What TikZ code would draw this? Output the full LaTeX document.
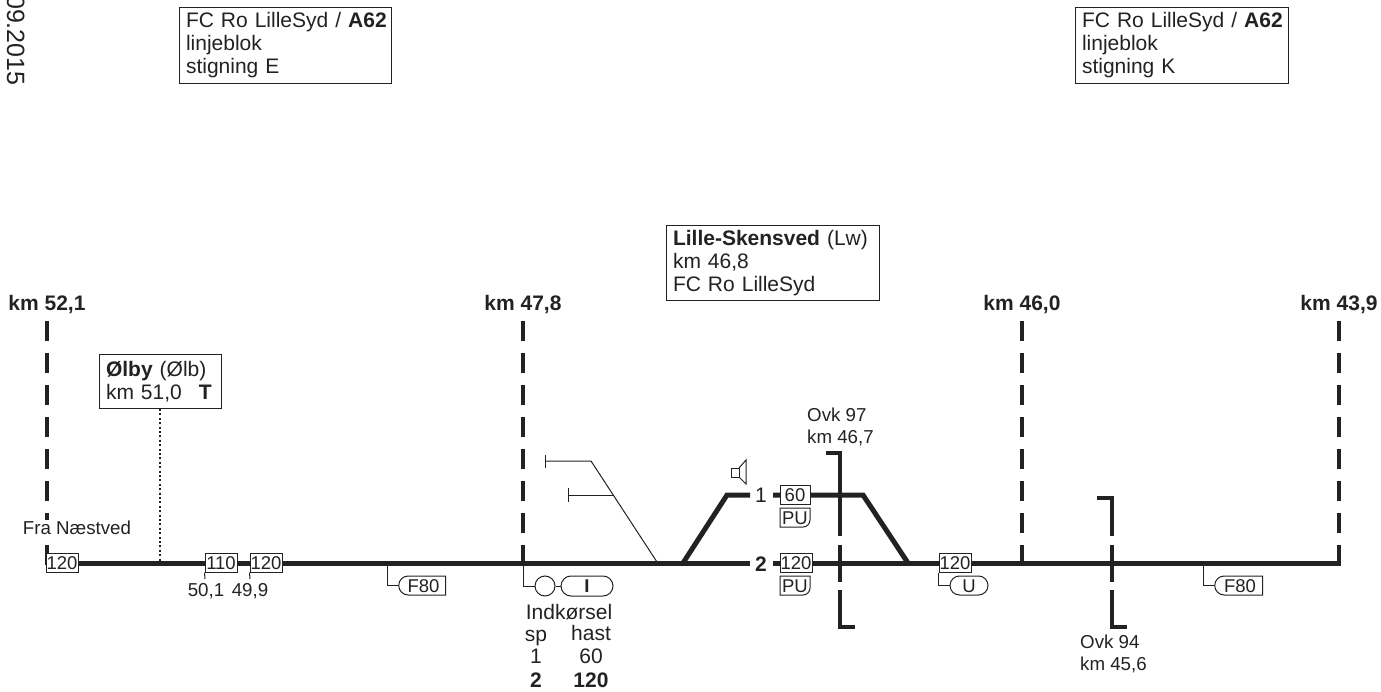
\documentclass[tikz,border=0pt]{standalone}
\usepackage{fontspec}
\setmainfont{Liberation Sans}
\usetikzlibrary{shapes.misc}
\definecolor{ink}{HTML}{222222}
\newcommand{\bigf}{\fontsize{21}{23}\selectfont}
\newcommand{\smf}{\fontsize{18.7}{22}\selectfont}
\newcommand{\spf}{\fontsize{18.5}{22}\selectfont}
\tikzset{
 track/.style={line width=5pt,draw=ink},
 thin/.style={line width=1pt,draw=ink},
 kmdash/.style={line width=4pt,draw=ink,dash pattern=on 20pt off 12pt},
 ovk/.style={line width=4pt,draw=ink},
 infobox/.style={draw=ink,line width=1pt,fill=white,align=left,text=ink,font=\bigf,inner sep=0pt,anchor=north west,inner xsep=6.5pt,inner ysep=3pt},
 txt/.style={text=ink,inner sep=0pt,font=\bigf,text height=15pt,text depth=0pt},
 smtxt/.style={text=ink,inner sep=0pt,font=\smf,text height=13pt,text depth=0pt},
 spd/.style={draw=ink,line width=1pt,fill=white,text=ink,font=\spf,inner sep=0pt,minimum height=19pt,text height=13pt,text depth=0pt},
 tagbox/.style={spd,rounded rectangle,rounded rectangle east arc=none,minimum height=19pt,rounded rectangle arc length=180},
 pillbox/.style={spd,rounded rectangle},
}
\begin{document}
\begin{tikzpicture}[x=1pt,y=-1pt]
\useasboundingbox (0,0) rectangle (1381,692);
\clip (0,0) rectangle (1381,692);
% date
\node[rotate=-90,anchor=base west,text=ink,inner sep=0pt,font=\fontsize{25}{25}\selectfont] (date) at (7,-5) {09.2015};
% info boxes
\node[infobox,text width=199pt,minimum height=76pt] (boxE) at (179,7) {\mbox{FC Ro LilleSyd / \textbf{A62}}\\linjeblok\\stigning E};
\node[infobox,text width=200pt,minimum height=76pt] (boxK) at (1075,7) {\mbox{FC Ro LilleSyd / \textbf{A62}}\\linjeblok\\stigning K};
\node[infobox,text width=200pt,minimum height=75pt] (boxL) at (666,225) {\textbf{Lille-Skensved} (Lw)\\km 46,8\\FC Ro LilleSyd};
\node[infobox,text width=109pt,minimum height=54pt] (boxO) at (99,354) {\textbf{Ølby} (Ølb)\\km 51,0\hspace{17pt}\textbf{T}};
% km labels
\node[txt,font=\bigf\bfseries] (k1) at (47,303) {km 52,1};
\node[txt,font=\bigf\bfseries] (k2) at (523,303) {km 47,8};
\node[txt,font=\bigf\bfseries] (k3) at (1022,303) {km 46,0};
\node[txt,font=\bigf\bfseries] (k4) at (1339,303) {km 43,9};
% km markers
\coordinate (t1) at (47,321); \coordinate (b1) at (47,565);
\coordinate (t2) at (523,321); \coordinate (b2) at (523,565);
\coordinate (t3) at (1022,321); \coordinate (b3) at (1022,565);
\coordinate (t4) at (1339,321); \coordinate (b4) at (1339,565);
\draw[kmdash] (t1)--(b1);
\draw[kmdash] (t2)--(b2);
\draw[kmdash] (t3)--(b3);
\draw[kmdash] (t4)--(b4);
\node[smtxt,fill=white,text height=13pt,text depth=4pt,inner ysep=2pt] (fra) at (77,530) {Fra Næstved};
% dotted
\coordinate (dotend) at (160,561);
\draw[line width=2pt,draw=ink,dash pattern=on 2pt off 2.4pt] (boxO.south -| dotend)--(dotend);
% tracks
\coordinate (mw) at (46,563); \coordinate (me) at (1341,563);
\coordinate (g1) at (683,563); \coordinate (g2) at (727,495); \coordinate (g3) at (863,495); \coordinate (g4) at (908,563);
\coordinate (s1a) at (750,495); \coordinate (s1b) at (773,495);
\coordinate (s2a) at (750,563); \coordinate (s2b) at (773,563);
\draw[track] (mw)--(s2a);
\draw[track] (s2b)--(me);
\draw[track,line join=miter] (g1)--(g2)--(s1a);
\draw[track,line join=miter] (s1b)--(g3)--(g4);
\node[txt] (n1) at (761,495) {1};
\node[txt,font=\bigf\bfseries] (n2) at (761,564) {2};
% overpasses
\coordinate (o1a) at (826,453); \coordinate (o1b) at (840,453); \coordinate (o1c) at (840,536);
\coordinate (o1d) at (840,545); \coordinate (o1e) at (840,582);
\coordinate (o1f) at (840,590); \coordinate (o1g) at (840,627); \coordinate (o1h) at (855,627);
\draw[ovk,line join=miter] (o1a)--(o1b)--(o1c);
\draw[ovk] (o1d)--(o1e);
\draw[ovk,line join=miter] (o1f)--(o1g)--(o1h);
\coordinate (o2a) at (1097,498); \coordinate (o2b) at (1112,498); \coordinate (o2c) at (1112,536);
\coordinate (o2d) at (1112,545); \coordinate (o2e) at (1112,582);
\coordinate (o2f) at (1112,590); \coordinate (o2g) at (1112,627); \coordinate (o2h) at (1127,627);
\draw[ovk,line join=miter] (o2a)--(o2b)--(o2c);
\draw[ovk] (o2d)--(o2e);
\draw[ovk,line join=miter] (o2f)--(o2g)--(o2h);
\node[smtxt,anchor=base west] (ov97a) at (807,421) {Ovk 97};
\node[smtxt,anchor=base west] (ov97b) at (807,443) {km 46,7};
\node[smtxt,anchor=base west] (ov94a) at (1080,648) {Ovk 94};
\node[smtxt,anchor=base west] (ov94b) at (1080,670) {km 45,6};
% speed boxes
\node[spd,minimum width=32pt] (v120a) at (62,562.5) {120};
\node[spd,minimum width=32pt] (v110) at (221,562.5) {110};
\node[spd,minimum width=32pt] (v120b) at (266,562.5) {120};
\node[spd,minimum width=30pt] (v60) at (795,494.5) {60};
\node[spd,minimum width=32pt] (v120c) at (796,562.5) {120};
\node[spd,minimum width=32pt] (v120d) at (955,562.5) {120};
% PU
\draw[thin,fill=white] (780,508) -- (810,508) -- (810,520) arc (0:90:7) -- (780,527) -- cycle;
\draw[thin,fill=white] (780,576) -- (810,576) -- (810,588) arc (0:90:7) -- (780,595) -- cycle;
\node[spd,draw=none,fill=none] (pu1) at (795,518) {PU};
\node[spd,draw=none,fill=none] (pu2) at (795,586) {PU};
% km ticks
\coordinate (tk1) at (205,579); \coordinate (tk2) at (250,579);
\draw[thin] (v110.south west)--(tk1);
\draw[thin] (v120b.south west)--(tk2);
\node[smtxt] (l501) at (206,590) {50,1};
\node[smtxt] (l499) at (250,590) {49,9};
% F80 tags
\node[tagbox,minimum width=47pt] (f1) at (423.5,585.5) {F80};
\node[tagbox,minimum width=48pt] (f2) at (1240,585.5) {F80};
\coordinate (f1t) at (387,563); \coordinate (f2t) at (1203,563);
\draw[thin] (f1t)|-(f1.west);
\draw[thin] (f2t)|-(f2.west);
% U
\node[pillbox,minimum width=38pt] (u) at (969,585.5) {U};
\draw[thin] (v120d.south west)|-(u.west);
% I signal
\node[circle,draw=ink,line width=1pt,fill=white,minimum size=20pt,inner sep=0pt] (sig) at (545,586) {};
\node[pillbox,minimum width=52pt,font=\spf\bfseries,minimum height=20pt] (ind) at (587,586) {I};
\coordinate (st) at (523,563);
\draw[thin] (st)|-(sig.west);
\draw[thin] (sig.east)--(ind.west);
% entry table
\node[txt] (e1) at (569,612) {Indkørsel};
\node[txt] (e2) at (536,634) {sp};
\node[txt] (e3) at (591,633) {hast};
\node[txt] (e4) at (536,656) {1};
\node[txt] (e5) at (591,656) {60};
\node[txt,font=\bigf\bfseries] (e6) at (536,680) {2};
\node[txt,font=\bigf\bfseries] (e7) at (591,680) {120};
% catenary
\coordinate (c1) at (591,461); \coordinate (c2) at (545,461); \coordinate (c3) at (657,562);
\coordinate (c4) at (613,495); \coordinate (c5) at (568,495);
\draw[line width=1pt,draw=ink] (c2)--(c1)--(c3);
\draw[thin] (c5)--(c4);
\draw[thin] (545,455)--(545,468);
\draw[thin] (568,488)--(568,502);
% speaker
\draw[thin,line join=miter] (731,468) rectangle (739,477);
\draw[thin,line join=miter] (739,468)--(746,460)--(746,484)--(739,477);
\end{tikzpicture}
\end{document}
